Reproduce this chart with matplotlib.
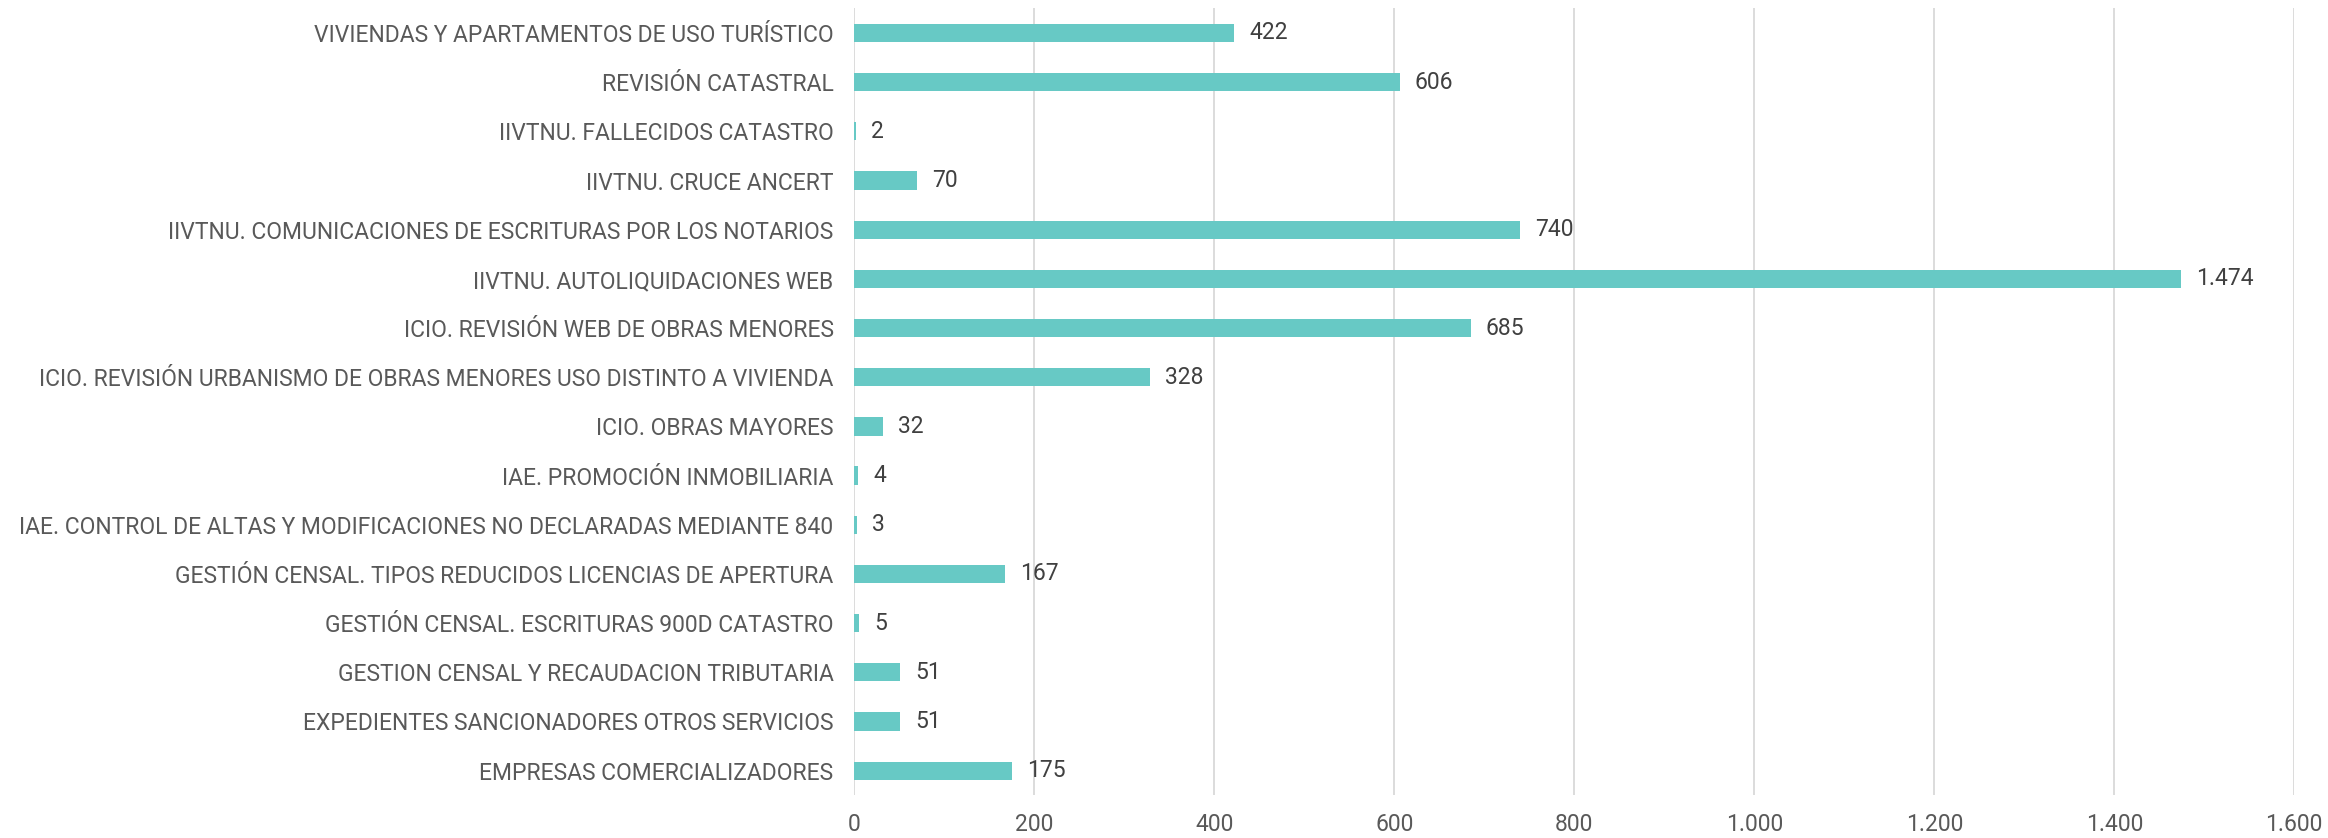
import matplotlib
matplotlib.use("Agg")
from matplotlib import pyplot as plt
from matplotlib.ticker import FuncFormatter

plt.rcParams['font.family'] = ['Roboto', 'DejaVu Sans']

# categories from top to bottom
categories = [
    'VIVIENDAS Y APARTAMENTOS DE USO TURÍSTICO',
    'REVISIÓN CATASTRAL',
    'IIVTNU. FALLECIDOS CATASTRO',
    'IIVTNU. CRUCE ANCERT',
    'IIVTNU. COMUNICACIONES DE ESCRITURAS POR LOS NOTARIOS',
    'IIVTNU. AUTOLIQUIDACIONES WEB',
    'ICIO. REVISIÓN WEB DE OBRAS MENORES',
    'ICIO. REVISIÓN URBANISMO DE OBRAS MENORES USO DISTINTO A VIVIENDA',
    'ICIO. OBRAS MAYORES',
    'IAE. PROMOCIÓN INMOBILIARIA',
    'IAE. CONTROL DE ALTAS Y MODIFICACIONES NO DECLARADAS MEDIANTE 840',
    'GESTIÓN CENSAL. TIPOS REDUCIDOS LICENCIAS DE APERTURA',
    'GESTIÓN CENSAL. ESCRITURAS 900D CATASTRO',
    'GESTION CENSAL Y RECAUDACION TRIBUTARIA',
    'EXPEDIENTES SANCIONADORES OTROS SERVICIOS',
    'EMPRESAS COMERCIALIZADORES',
]
values = [422, 606, 2, 70, 740, 1474, 685, 328, 32, 4, 3, 167, 5, 51, 51, 175]
x_ticks = [0, 200, 400, 600, 800, 1000, 1200, 1400, 1600]


def miles(v):
    return f'{int(v):,}'.replace(',', '.')


fig = plt.figure(figsize=(23.28, 8.38), dpi=100)
ax = fig.add_axes([0.367, 0.051, 0.6185, 0.939])

pos = list(range(len(categories)))
ax.barh(pos, values, height=0.37, color='#67C9C5', zorder=3)
for p, v in zip(pos, values):
    ax.annotate(miles(v), (v, p), xytext=(15, 0), textcoords='offset pixels',
                va='center', ha='left', fontsize=16.5, color='#404040')

ax.set_yticks(pos)
ax.set_yticklabels(categories, fontsize=16.5, color='#595959')
ax.set_ylim(len(categories) - 0.5, -0.5)
ax.set_xlim(0, 1600)
ax.set_xticks(x_ticks)
ax.xaxis.set_major_formatter(FuncFormatter(lambda v, _: miles(v)))
ax.tick_params(axis='x', labelsize=16.5, labelcolor='#595959', length=0, pad=13)
ax.tick_params(axis='y', length=0, pad=15)
ax.grid(axis='x', color='#D9D9D9', linewidth=1.3, zorder=0)
for s in ax.spines.values():
    s.set_visible(False)

fig.savefig('out.png', dpi=100)
